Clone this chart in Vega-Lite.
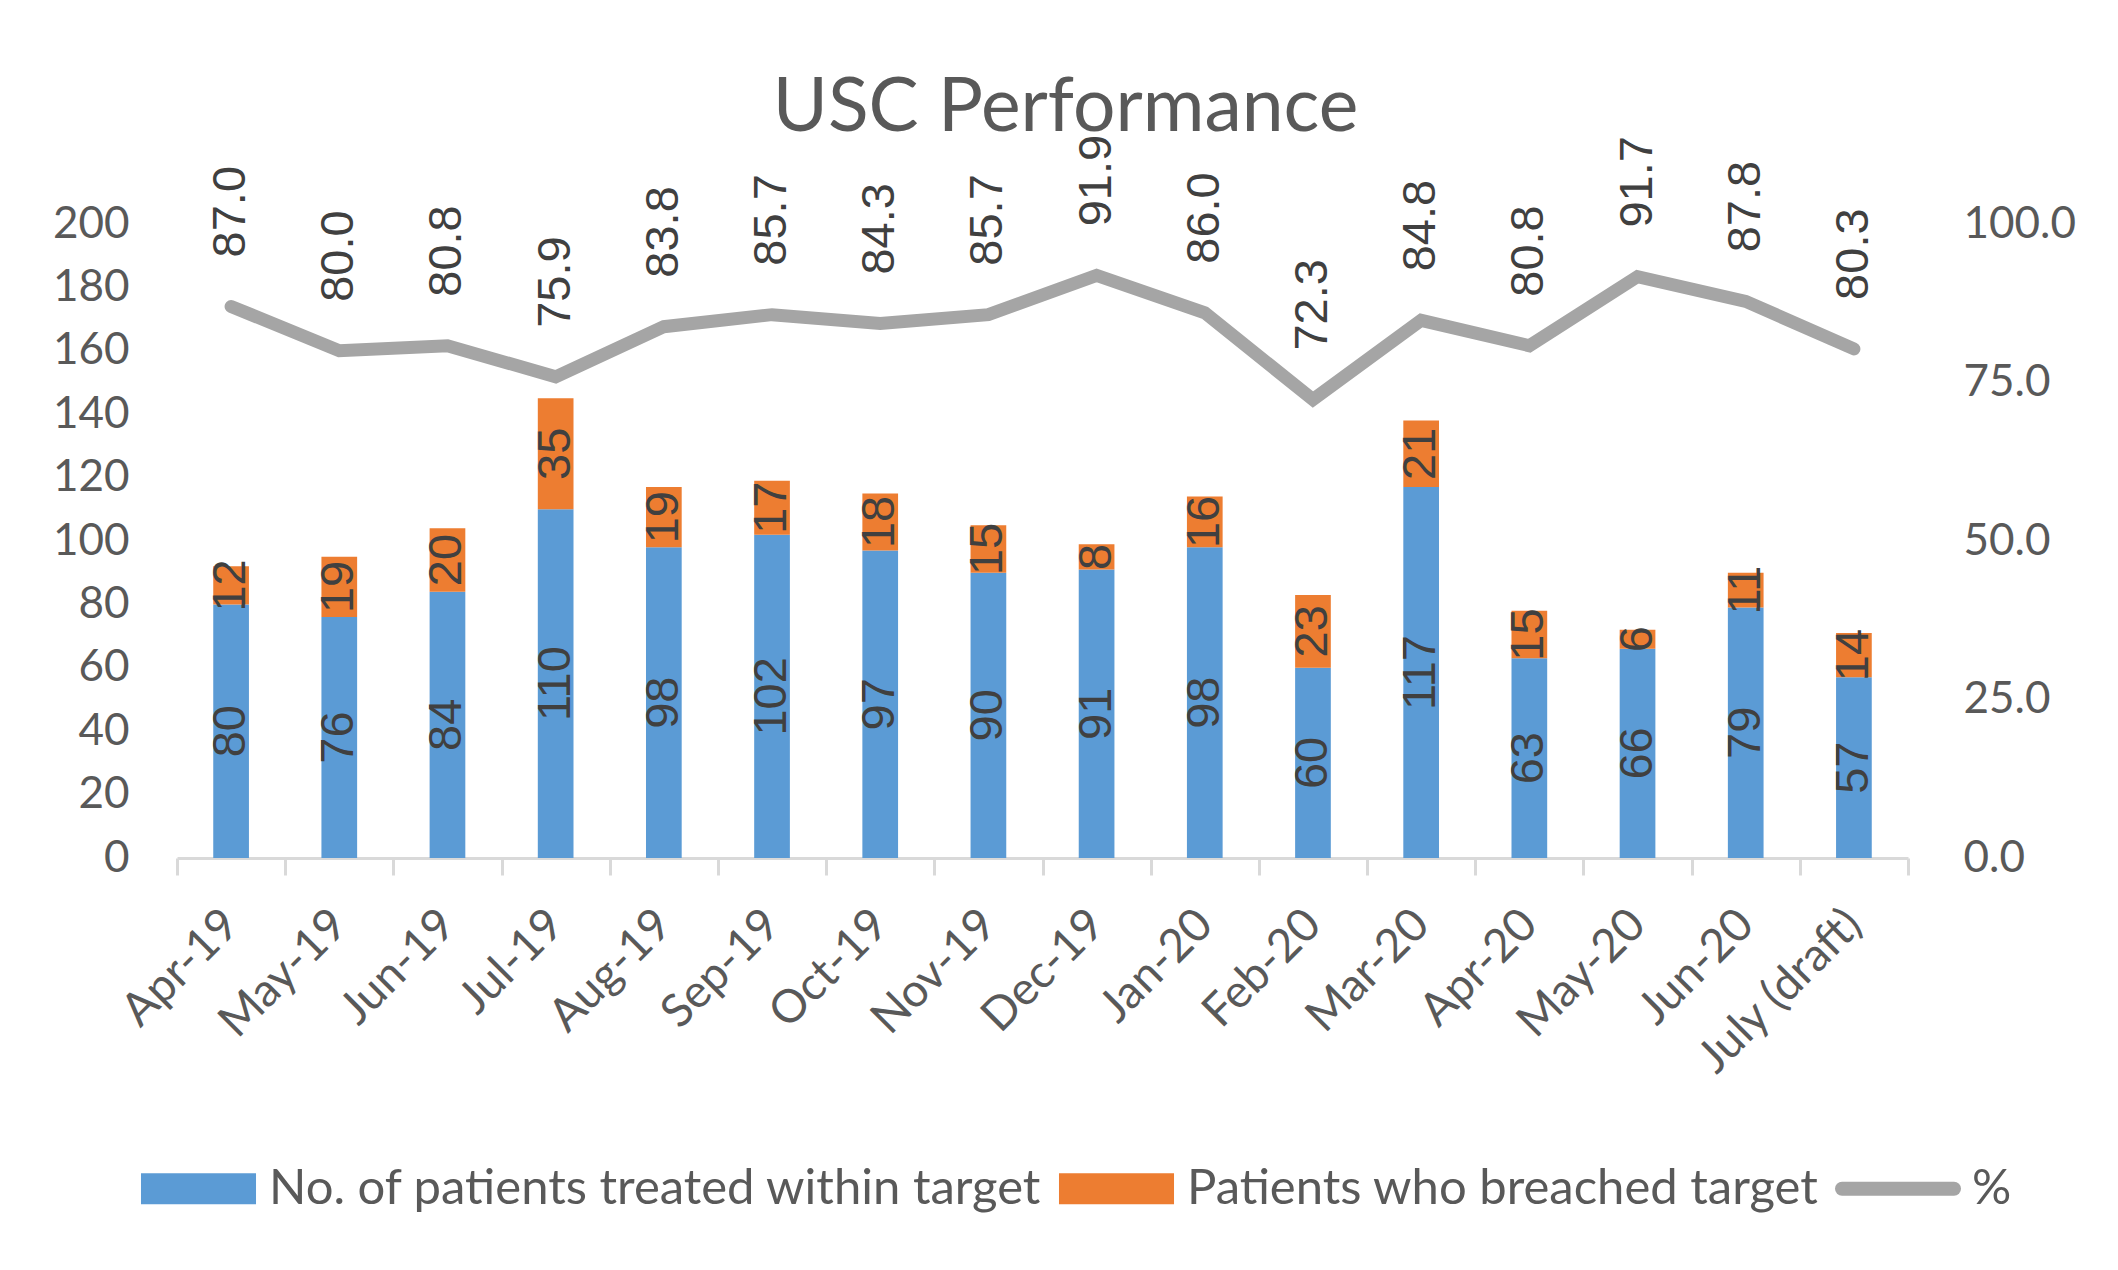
{
  "$schema": "https://vega.github.io/schema/vega-lite/v6.json",
  "autosize": "none",
  "width": 1731,
  "height": 634,
  "padding": {"left": 177, "top": 224, "right": 210, "bottom": 412},
  "background": "white",
  "title": {"text": "USC Performance", "font": "Lato", "fontSize": 75, "fontWeight": "normal", "color": "#595959", "anchor": "middle", "dx": 23, "offset": -12},
  "data": {"values": [
    {"month": "Apr-19", "within": 80, "breached": 12, "pct": 87.0},
    {"month": "May-19", "within": 76, "breached": 19, "pct": 80.0},
    {"month": "Jun-19", "within": 84, "breached": 20, "pct": 80.8},
    {"month": "Jul-19", "within": 110, "breached": 35, "pct": 75.9},
    {"month": "Aug-19", "within": 98, "breached": 19, "pct": 83.8},
    {"month": "Sep-19", "within": 102, "breached": 17, "pct": 85.7},
    {"month": "Oct-19", "within": 97, "breached": 18, "pct": 84.3},
    {"month": "Nov-19", "within": 90, "breached": 15, "pct": 85.7},
    {"month": "Dec-19", "within": 91, "breached": 8, "pct": 91.9},
    {"month": "Jan-20", "within": 98, "breached": 16, "pct": 86.0},
    {"month": "Feb-20", "within": 60, "breached": 23, "pct": 72.3},
    {"month": "Mar-20", "within": 117, "breached": 21, "pct": 84.8},
    {"month": "Apr-20", "within": 63, "breached": 15, "pct": 80.8},
    {"month": "May-20", "within": 66, "breached": 6, "pct": 91.7},
    {"month": "Jun-20", "within": 79, "breached": 11, "pct": 87.8},
    {"month": "July (draft)", "within": 57, "breached": 14, "pct": 80.3}
  ]},
  "encoding": {
    "x": {
      "field": "month", "type": "ordinal",
      "sort": ["Apr-19","May-19","Jun-19","Jul-19","Aug-19","Sep-19","Oct-19","Nov-19","Dec-19","Jan-20","Feb-20","Mar-20","Apr-20","May-20","Jun-20","July (draft)"],
      "scale": {"paddingInner": 0, "paddingOuter": 0},
      "axis": {"title": null, "labelAngle": -45, "labelAlign": "right", "labelBaseline": "middle", "labelPadding": 42, "labelLimit": 0, "domainColor": "#D9D9D9", "domainWidth": 3, "tickColor": "#D9D9D9", "tickWidth": 3, "tickSize": 17, "tickBand": "extent", "labelFont": "Lato", "labelFontSize": 46, "labelColor": "#595959"}
    }
  },
  "layer": [
    {
      "transform": [{"fold": ["within", "breached"], "as": ["key", "value"]}],
      "layer": [
        {
          "mark": {"type": "bar", "width": {"band": 0.33}},
          "encoding": {
            "y": {"field": "value", "type": "quantitative", "stack": "zero", "scale": {"domain": [0, 200]},
                  "axis": {"values": [0,20,40,60,80,100,120,140,160,180,200], "title": null, "domain": false, "ticks": false, "grid": false, "labelPadding": 48, "labelFont": "Lato", "labelFontSize": 44, "labelColor": "#595959"}},
            "color": {"field": "key", "type": "nominal",
                      "scale": {"domain": ["within", "breached", "%"], "range": ["#5B9BD5", "#ED7D31", "#A5A5A5"]},
                      "legend": {"orient": "none", "legendX": -36, "legendY": 940, "direction": "horizontal", "title": null, "padding": 0,
                                 "symbolSize": 12996, "labelOffset": 79, "columnPadding": 15, "labelLimit": 0,
                                 "labelFont": "Lato", "labelFontSize": 49, "labelColor": "#595959",
                                 "labelExpr": "datum.value === 'within' ? 'No. of patients treated within target' : datum.value === 'breached' ? 'Patients who breached target' : '%'",
                                 "encode": {
                                   "symbols": {"update": {
                                     "shape": {"signal": "datum.value === '%' ? 'M-0.693,0H1.272' : 'M-0.43,-0.272H1.588V0.272H-0.43Z'"},
                                     "fill": {"signal": "datum.value === '%' ? 'transparent' : (datum.value === 'within' ? '#5B9BD5' : '#ED7D31')"},
                                     "stroke": {"signal": "datum.value === '%' ? '#A5A5A5' : 'transparent'"},
                                     "strokeWidth": {"signal": "datum.value === '%' ? 14 : 0"},
                                     "strokeCap": {"value": "round"},
                                     "strokeJoin": {"value": "round"},
                                     "opacity": {"value": 1}
                                   }},
                                   "labels": {"update": {
                                     "dx": {"signal": "datum.value === '%' ? -13 : 0"}
                                   }}
                                 }}},
            "order": {"field": "key", "sort": "descending"}
          }
        },
        {
          "mark": {"type": "text", "angle": 270, "font": "Liberation Sans", "fontSize": 47, "color": "#404040", "align": "center", "baseline": "middle"},
          "encoding": {
            "y": {"field": "value", "type": "quantitative", "stack": "zero", "bandPosition": 0.5},
            "text": {"field": "value", "type": "quantitative"},
            "order": {"field": "key", "sort": "descending"}
          }
        }
      ]
    },
    {
      "layer": [
        {
          "mark": {"type": "line", "strokeWidth": 13, "strokeCap": "round"},
          "encoding": {
            "y": {"field": "pct", "type": "quantitative", "scale": {"domain": [0, 100]},
                  "axis": {"orient": "right", "values": [0,25,50,75,100], "format": ".1f", "title": null, "domain": false, "ticks": false, "grid": false, "labelPadding": 55, "labelFont": "Lato", "labelFontSize": 44, "labelColor": "#595959"}},
            "color": {"datum": "%"}
          }
        },
        {
          "mark": {"type": "text", "angle": 270, "font": "Liberation Sans", "fontSize": 47, "color": "#404040", "align": "left", "baseline": "middle", "dx": 49},
          "encoding": {
            "y": {"field": "pct", "type": "quantitative"},
            "text": {"field": "pct", "type": "quantitative", "format": ".1f"}
          }
        }
      ]
    }
  ],
  "resolve": {"scale": {"y": "independent"}},
  "config": {"view": {"stroke": null}}
}
